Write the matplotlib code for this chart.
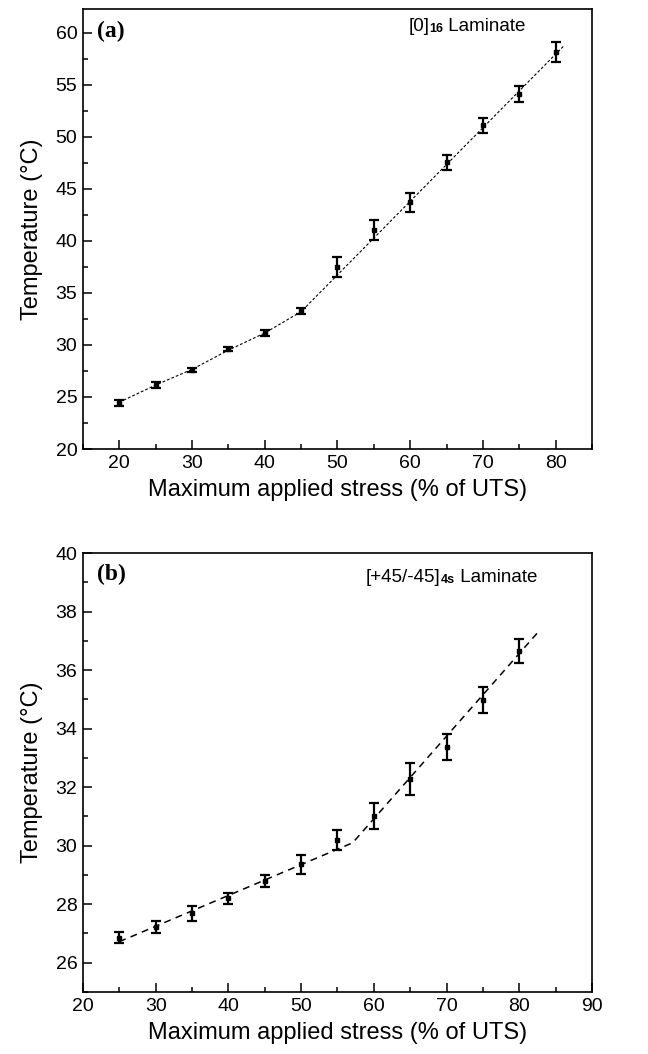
import matplotlib
matplotlib.use("Agg")
import matplotlib.pyplot as plt
from matplotlib.ticker import MultipleLocator

plt.rcParams['font.family'] = ['Liberation Sans', 'DejaVu Sans']

# (a) [0]16 laminate
stress_a = [20, 25, 30, 35, 40, 45, 50, 55, 60, 65, 70, 75, 80]
temp_a = [24.45, 26.15, 27.6, 29.6, 31.15, 33.25, 37.5, 41.05, 43.7, 47.55, 51.1, 54.15, 58.15]
err_a = [0.3, 0.3, 0.2, 0.2, 0.25, 0.3, 0.95, 0.93, 0.88, 0.7, 0.68, 0.75, 0.97]
fit_a_x = [20, 25, 30, 35, 40, 45, 81.2]
fit_a_y = [24.5, 26.15, 27.65, 29.5, 31.15, 33.2, 58.8]

# (b) [+45/-45]4s laminate
stress_b = [25, 30, 35, 40, 45, 50, 55, 60, 65, 70, 75, 80]
temp_b = [26.86, 27.23, 27.69, 28.2, 28.79, 29.36, 30.19, 31.01, 32.27, 33.37, 34.98, 36.65]
err_b = [0.2, 0.2, 0.25, 0.19, 0.2, 0.32, 0.34, 0.45, 0.55, 0.45, 0.44, 0.42]
fit_b_x = [25, 57.1, 82.6]
fit_b_y = [26.72, 30.1, 37.3]

fig = plt.figure(figsize=(6.48, 10.54), dpi=100)
ax1 = fig.add_axes([0.128, 0.574, 0.7855, 0.4175])
ax2 = fig.add_axes([0.128, 0.0588, 0.7855, 0.4165])


def draw_panel(ax, x, y, e, fx, fy, dashes, lw):
    ax.plot(fx, fy, color='black', linewidth=lw, dashes=dashes)
    ax.errorbar(x, y, yerr=e, fmt='s', color='black', markersize=3.5,
                elinewidth=1.6, capsize=3.8, capthick=1.6)
    for sp in ax.spines.values():
        sp.set_linewidth(1.2)
    ax.tick_params(which='both', direction='in', labelsize=14, width=1.1, pad=4)
    ax.tick_params(which='major', length=6.5)
    ax.tick_params(which='minor', length=3.6)
    ax.set_xlabel('Maximum applied stress (% of UTS)', fontsize=17, labelpad=5)
    ax.set_ylabel('Temperature (°C)', fontsize=17, labelpad=9)


def laminate_label(ax, x, y, pre, sub, post):
    t1 = ax.text(x, y, pre, transform=ax.transAxes, fontsize=13.5, va='bottom', ha='left')
    t2 = ax.annotate(sub, xy=(1, 0), xycoords=t1, fontsize=9, va='bottom', ha='left',
                     fontweight='bold')
    ax.annotate(post, xy=(1, 0), xycoords=(t2, t1), fontsize=13.5, va='bottom', ha='left')


draw_panel(ax1, stress_a, temp_a, err_a, fit_a_x, fit_a_y, (2.5, 1.8), 0.8)
ax1.set_xlim(15, 85)
ax1.set_ylim(20, 62.3)
ax1.xaxis.set_major_locator(MultipleLocator(10))
ax1.xaxis.set_minor_locator(MultipleLocator(5))
ax1.yaxis.set_major_locator(MultipleLocator(5))
ax1.yaxis.set_minor_locator(MultipleLocator(2.5))
ax1.text(0.028, 0.948, '(a)', transform=ax1.transAxes, fontsize=17, fontweight='bold',
         family='Liberation Serif', va='center', ha='left')
laminate_label(ax1, 0.639, 0.94, '[0]', '16', ' Laminate')

draw_panel(ax2, stress_b, temp_b, err_b, fit_b_x, fit_b_y, (4.5, 3.5), 1.1)
ax2.set_xlim(20, 90)
ax2.set_ylim(25, 40)
ax2.xaxis.set_major_locator(MultipleLocator(10))
ax2.xaxis.set_minor_locator(MultipleLocator(5))
ax2.yaxis.set_major_locator(MultipleLocator(2))
ax2.yaxis.set_minor_locator(MultipleLocator(1))
ax2.set_yticks([26, 28, 30, 32, 34, 36, 38, 40])
ax2.text(0.028, 0.952, '(b)', transform=ax2.transAxes, fontsize=17, fontweight='bold',
         family='Liberation Serif', va='center', ha='left')
laminate_label(ax2, 0.556, 0.925, '[+45/-45]', '4s', ' Laminate')

fig.savefig('out.png', dpi=100)
